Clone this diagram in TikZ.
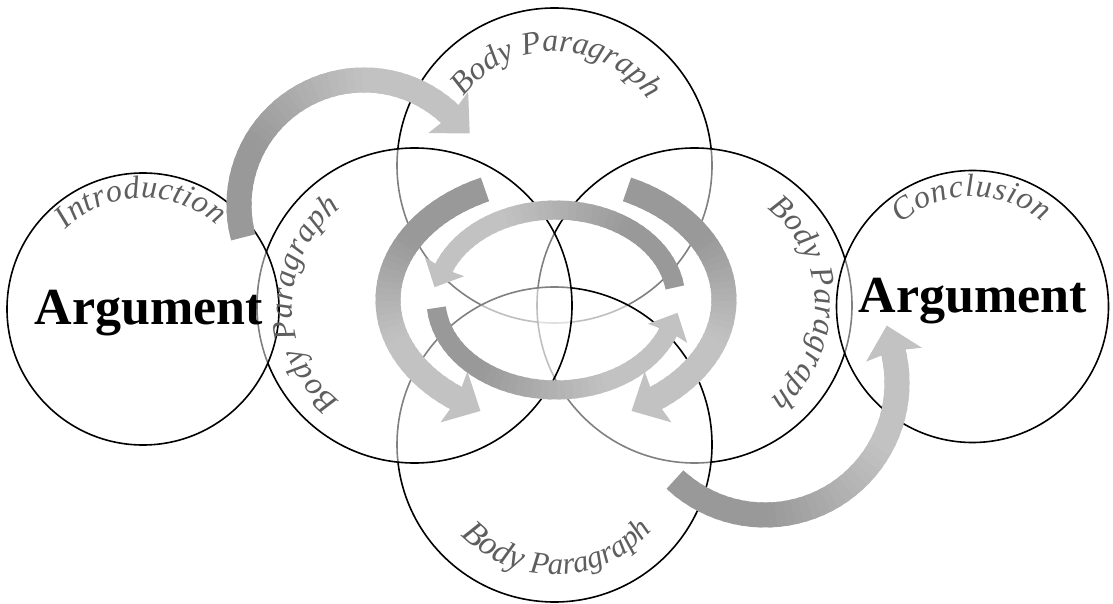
\documentclass[tikz,border=0pt]{standalone}
\usepackage{fontspec}
\setmainfont{Liberation Serif}
\usetikzlibrary{decorations.text}
\definecolor{adark}{HTML}{999999}
\definecolor{alight}{HTML}{C2C2C2}
\definecolor{lblgray}{HTML}{5E5E5E}
\newcommand\lblfont{\fontsize{32}{38}\selectfont\itshape\color{lblgray}}
\newcommand\lblmid{\fontsize{31}{37}\selectfont\itshape\color{lblgray}}
\newcommand\lblbig{\fontsize{34}{40}\selectfont\itshape\color{lblgray}}
\newcommand\argfont{\fontsize{52}{60}\selectfont\bfseries}
% curved block arrow along an elliptic arc:
% #1 centre coordinate, #2 rx, #3 ry, #4 start angle, #5 end angle, #6 width, #7 tail colour, #8 head colour
\newcommand\bandarrow[8]{%
  \begin{scope}[shift={(#1)}]
    \foreach \k in {0,...,39}{%
      \pgfmathsetmacro\BAta{#4+(#5-#4)*\k/40}%
      \pgfmathsetmacro\BAtb{#4+(#5-#4)*min(\k+1.5,40)/40}%
      \pgfmathtruncatemacro\BApc{100*max(0,min(1,((\k+0.5)/40-0.3)/0.4))}%
      \draw[line width=#6pt, draw=#8!\BApc!#7] ({#2*cos(\BAta)},{#3*sin(\BAta)})
        arc[start angle=\BAta, end angle=\BAtb, x radius=#2, y radius=#3];
    }%
    \pgfmathsetmacro\BAsg{(#5>#4)?1:-1}%
    \pgfmathsetmacro\BAex{#2*cos(#5)}%
    \pgfmathsetmacro\BAey{#3*sin(#5)}%
    \pgfmathsetmacro\BAdx{-\BAsg*#2*sin(#5)}%
    \pgfmathsetmacro\BAdy{\BAsg*#3*cos(#5)}%
    \pgfmathsetmacro\BAdn{veclen(\BAdx,\BAdy)}%
    \pgfmathsetmacro\BAux{\BAdx/\BAdn}%
    \pgfmathsetmacro\BAuy{\BAdy/\BAdn}%
    \pgfmathsetmacro\BAhw{1.15*#6}%
    \pgfmathsetmacro\BAbw{0.5*#6}%
    \pgfmathsetmacro\BAhl{1.05*#6}%
    \pgfmathsetmacro\BAsw{0.15*#6}%
    \fill[#8] ({\BAex-1.5*\BAux-\BAbw*\BAuy},{\BAey-1.5*\BAuy+\BAbw*\BAux})
      -- ({\BAex-\BAsw*\BAux-\BAhw*\BAuy},{\BAey-\BAsw*\BAuy+\BAhw*\BAux})
      -- ({\BAex+\BAhl*\BAux},{\BAey+\BAhl*\BAuy})
      -- ({\BAex-\BAsw*\BAux+\BAhw*\BAuy},{\BAey-\BAsw*\BAuy-\BAhw*\BAux})
      -- ({\BAex-1.5*\BAux+\BAbw*\BAuy},{\BAey-1.5*\BAuy-\BAbw*\BAux}) -- cycle;
  \end{scope}}
\begin{document}
\begin{tikzpicture}[x=1pt,y=1pt,
  bubble/.style={circle, draw=black, line width=1.6pt, fill=white, fill opacity=0.5, inner sep=0pt, outer sep=0pt},
  bodybubble/.style={bubble, minimum size=315pt},
  endbubble/.style={bubble, minimum size=272pt},
  argtext/.style={font=\argfont, text=black, anchor=base, inner sep=0pt},
  arclabel/.style={decorate, decoration={text along path, text align=fit to path, text={#1}}}]
\useasboundingbox (0,0) rectangle (1113,603);
% circles, lowest first
\node[bodybubble] (bpTop) at (554.5,437.5) {};
\node[bodybubble] (bpRight) at (694.5,297.5) {};
\node[bodybubble] (bpBottom) at (554.5,158.5) {};
\node[bodybubble] (bpLeft) at (414.5,297.5) {};
\node[endbubble] (intro) at (143,294) {};
\node[endbubble] (concl) at (972.5,296.5) {};
% arrows
\coordinate (cIT) at (364,398);
\coordinate (cMid) at (556,303);
\coordinate (cBC) at (765,220);
\bandarrow{cIT}{125}{125}{195}{46}{25}{adark}{alight}
\bandarrow{cMid}{168}{122}{115}{234}{25}{adark}{alight}
\bandarrow{cMid}{168}{122}{65}{-54}{25}{adark}{alight}
\bandarrow{cMid}{120}{90}{8}{160}{19}{adark}{alight}
\bandarrow{cMid}{120}{90}{185}{340}{19}{adark}{alight}
\bandarrow{cBC}{132}{132}{227}{374}{25}{adark}{alight}
% curved labels
\path[arclabel={|\lblfont|Introduction}] (intro) ++(134:111) arc[start angle=134, end angle=48.5, radius=111];
\path[arclabel={|\lblfont|Conclusion}] (concl) ++(131:110) arc[start angle=131, end angle=50.5, radius=110];
\path[arclabel={|\lblfont|Body Paragraph}] (bpTop) ++(143:114) arc[start angle=143, end angle=35, radius=114];
\path[arclabel={|\lblfont|Body Paragraph}] (bpLeft) ++(232:122) arc[start angle=232, end angle=127, radius=122];
\path[arclabel={|\lblfont|Body Paragraph}] (bpRight) ++(53:121) arc[start angle=53, end angle=-51, radius=121];
\path[arclabel={|\lblbig|Body |\lblmid|Paragraph}] (bpBottom) ++(224:130) arc[start angle=224, end angle=319, radius=130];
% Argument texts
\node[argtext] (argI) at (149,278) {Argument};
\node[argtext] (argC) at (973,290) {Argument};
\end{tikzpicture}
\end{document}
